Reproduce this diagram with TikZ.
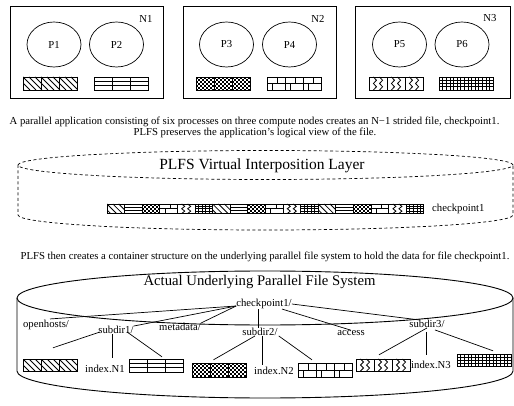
\documentclass[tikz,border=0pt]{standalone}
\usepackage{fontspec}
\setmainfont{Liberation Serif}
\usetikzlibrary{shapes.geometric}
\newcommand\fs{\fontsize{10.7}{12}\selectfont}
\newcommand\fl{\fontsize{15.5}{18}\selectfont}
\newcommand\flb{\fontsize{14.7}{17}\selectfont}
\tikzset{
  nodebox/.style={draw, line width=0.9pt, inner sep=0},
  proc/.style={ellipse, draw, line width=0.7pt, inner sep=0, minimum width=54pt, minimum height=45pt, font=\fs},
  lbl/.style={inner sep=0, font=\fs},
  big/.style={inner sep=0, font=\fl},
  patl/.style={line width=0.8pt},
  thinl/.style={line width=0.5pt},
  dashcyl/.style={line width=0.7pt, dash pattern=on 3pt off 2.5pt},
  cyl/.style={line width=0.9pt},
  tree/.style={line width=0.7pt},
}
% pattern cells: x y w h (top-left corner, picture units)
\newcommand\pdiag[4]{%
  \begin{scope}
    \clip (#1,#2) rectangle ++(#3,#4);
    \foreach \k in {-3,...,3} \draw[patl] ({#1+\k*#3/3},#2) -- ++(#4,#4);
  \end{scope}
  \draw[patl] (#1,#2) rectangle ++(#3,#4);}
\newcommand\phl[4]{%
  \draw[patl] (#1,#2) rectangle ++(#3,#4);
  \draw[patl] (#1,{#2+#4/3}) -- ++(#3,0) (#1,{#2+2*#4/3}) -- ++(#3,0);}
\newcommand\pchk[4]{%
  \begin{scope}
    \clip (#1,#2) rectangle ++(#3,#4);
    \foreach \r in {0,...,7} \foreach \c in {0,...,9} {%
      \pgfmathtruncatemacro\chkp{mod(\r+\c,2)}%
      \ifnum\chkp=0 \fill ({#1+\c*2},{#2+\r*2}) rectangle ++(2,2);\fi}
  \end{scope}
  \draw[patl] (#1,#2) rectangle ++(#3,#4);}
\newcommand\pbrick[4]{%
  \draw[patl] (#1,#2) rectangle ++(#3,#4);
  \draw[patl] (#1,{#2+#4/2}) -- ++(#3,0);
  \draw[patl] ({#1+0.6*#3},#2) -- ++(0,{#4/2});
  \draw[patl] ({#1+0.3*#3},{#2+#4/2}) -- ++(0,{#4/2});}
\newcommand\pzig[4]{%
  \draw[patl] (#1,#2) rectangle ++(#3,#4);
  \foreach \f in {0.33,0.67}
    \draw[patl] ({#1+\f*#3-1.5},#2) -- ++(3,{#4/4}) -- ++(-3,{#4/4}) -- ++(3,{#4/4}) -- ++(-3,{#4/4});}
\newcommand\pgrid[4]{%
  \draw[patl] (#1,#2) rectangle ++(#3,#4);
  \foreach \f in {1,2,3,4} \draw[thinl] ({#1+\f*#3/5},#2) -- ++(0,#4);
  \foreach \f in {1,2,3} \draw[thinl] (#1,{#2+\f*#4/4}) -- ++(#3,0);}
\newcommand\pcell[5]{\ifcase#1\relax\pdiag{#2}{#3}{#4}{#5}\or\phl{#2}{#3}{#4}{#5}\or\pchk{#2}{#3}{#4}{#5}\or\pbrick{#2}{#3}{#4}{#5}\or\pzig{#2}{#3}{#4}{#5}\or\pgrid{#2}{#3}{#4}{#5}\fi}
% block of three cells: type, name, x, y, h
\newcommand\pblock[5]{%
  \node[inner sep=0, minimum width=54pt, minimum height=#5pt] (#2) at ({#3+27},{#4+#5/2}) {};
  \foreach \j in {0,1,2} {\pgfmathsetmacro\xx{#3+\j*18}\pcell{#1}{\xx}{#4}{18}{#5}}}
\begin{document}
\begin{tikzpicture}[x=1pt,y=-1pt]
\useasboundingbox (0,0) rectangle (514,406);

% compute nodes
\node[nodebox, minimum width=153pt, minimum height=92pt] (N1) at (86.5,52) {};
\node[nodebox, minimum width=153pt, minimum height=92pt] (N2) at (259.5,52) {};
\node[nodebox, minimum width=155pt, minimum height=92pt] (N3) at (433,52) {};
\node[lbl] (N1l) at (146,19) {N1};
\node[lbl] (N2l) at (318,19) {N2};
\node[lbl] (N3l) at (490,18) {N3};
\node[proc] (P1) at (54,44.5) {P1};
\node[proc] (P2) at (116.5,44.5) {P2};
\node[proc] (P3) at (226.5,44.5) {P3};
\node[proc] (P4) at (289.5,44.5) {P4};
\node[proc] (P5) at (399.5,44.5) {P5};
\node[proc] (P6) at (462,44.5) {P6};
\pblock{0}{a1}{23}{77}{13}
\pblock{1}{a2}{94}{77}{13}
\pblock{2}{a3}{196}{77}{13}
\pblock{3}{a4}{267}{77}{13}
\pblock{4}{a5}{369}{77}{13}
\pblock{5}{a6}{439}{77}{13}

% captions
\node[lbl] (cap1) at (254.5,122) {A parallel application consisting of six processes on three compute nodes creates an N−1 strided file, checkpoint1.};
\node[lbl] (cap2) at (255,132.5) {PLFS preserves the application’s logical view of the file.};

% virtual layer cylinder
\draw[dashcyl] (265.5,165) ellipse [x radius=247.5pt, y radius=14.5pt];
\draw[dashcyl] (18,165) -- (18,215) arc[start angle=180, end angle=360, x radius=247.5pt, y radius=15pt] -- (513,165);
\node[big] (vil) at (262,166) {PLFS Virtual Interposition Layer};
\node[inner sep=0, minimum width=316.8pt, minimum height=9.5pt] (strip) at (265.4,208.75) {};
\foreach \i in {0,...,17} {\pgfmathtruncatemacro\t{mod(\i,6)}\pgfmathsetmacro\xx{107+\i*17.6}\pcell{\t}{\xx}{204}{17.6}{9.5}}
\node[lbl, anchor=west] (stripl) at ([xshift=8pt]strip.east) {checkpoint1};

\node[lbl] (cap3) at (265,257) {PLFS then creates a container structure on the underlying parallel file system to hold the data for file checkpoint1.};

% underlying file system cylinder
\draw[cyl] (265,298) ellipse [x radius=248pt, y radius=27pt];
\draw[cyl] (17,298) -- (17,371) arc[start angle=180, end angle=360, x radius=248pt, y radius=27pt] -- (513,298);
\node[inner sep=0, font=\flb] (pfs) at (259.5,281.5) {Actual Underlying Parallel File System};

% tree
\node[lbl] (cp) at (264,304) {checkpoint1/};
\node[lbl] (oh) at (46,325) {openhosts/};
\node[lbl] (sd1) at (116,330) {subdir1/};
\node[lbl] (md) at (180,327) {metadata/};
\node[lbl] (sd2) at (260,332) {subdir2/};
\node[lbl] (ac) at (351,333) {access};
\node[lbl] (sd3) at (427,324) {subdir3/};
\node[lbl] (i1) at (105,369) {index.N1};
\node[lbl] (i2) at (274,371) {index.N2};
\node[lbl] (i3) at (431,365) {index.N3};
\pblock{0}{b1}{23}{359}{12}
\pblock{1}{b2}{129}{359}{13}
\pblock{2}{b3}{192}{363}{14}
\pblock{3}{b4}{298}{363}{14}
\pblock{4}{b5}{356}{359}{12}
\pblock{5}{b6}{457}{354}{12}

\draw[tree] ([yshift=-2pt]cp.west) -- ([xshift=4pt,yshift=1pt]oh.north);
\draw[tree] ([yshift=-2pt]cp.west) -- (sd1.north east);
\draw[tree] ([yshift=-2pt]cp.west) -- (md.north east);
\draw[tree] ([xshift=-6pt]cp.south) -- ([xshift=-2pt]sd2.north);
\draw[tree] ([xshift=18pt]cp.south) -- (ac.north);
\draw[tree] (cp.east) -- ([xshift=-7pt]sd3.north);

\draw[tree] ([xshift=-16pt,yshift=2pt]sd1.south) -- ([xshift=3pt,yshift=11pt]b1.north);
\draw[tree] ([xshift=-4pt]sd1.south) -- ([xshift=7pt,yshift=7pt]i1.north);
\draw[tree] ([xshift=11pt,yshift=2pt]sd1.south) -- ([xshift=6pt,yshift=2pt]b2.north);

\draw[tree] ([xshift=-5pt]sd2.south) -- ([xshift=-5.5pt,yshift=3pt]b3.north);
\draw[tree] ([xshift=2pt]sd2.south) -- ([xshift=-12pt,yshift=2pt]i2.north);
\draw[tree] ([xshift=1pt]sd2.south east) -- ([xshift=-13pt,yshift=3pt]b4.north);

\draw[tree] (sd3.south) -- ([xshift=-4pt,yshift=4pt]b5.north);
\draw[tree] ([xshift=-1pt,yshift=-4pt]sd3.south) -- ([xshift=-5pt,yshift=6pt]i3.north);
\draw[tree] ([xshift=8pt,yshift=-2pt]sd3.south) -- ([xshift=9pt,yshift=3pt]b6.north);
\end{tikzpicture}
\end{document}
